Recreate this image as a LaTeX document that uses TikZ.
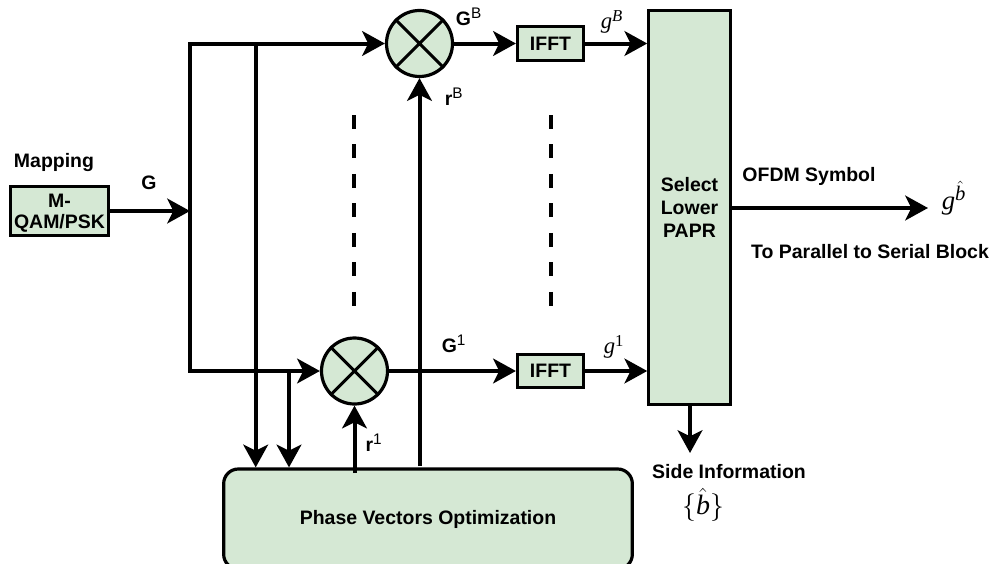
\documentclass[tikz,border=0pt]{standalone}
\usepackage{fontspec}
\setmainfont{Liberation Sans}
\newfontfamily\serf{Liberation Serif}
\usetikzlibrary{arrows.meta}
\definecolor{boxfill}{HTML}{D5E8D4}
\newcommand{\lab}{\fontsize{14.6pt}{17.3pt}\selectfont\bfseries}
\newcommand{\sym}[1]{\mbox{\fontsize{17pt}{20pt}\selectfont\serf\itshape #1}}
\newcommand{\symsup}[1]{\mbox{\fontsize{12.5pt}{14pt}\selectfont\serf\itshape #1}}
\newcommand{\numsup}[1]{\mbox{\fontsize{12.5pt}{14pt}\selectfont\serf #1}}
\newcommand{\sanssup}[1]{\textsuperscript{\fontsize{11.5pt}{14pt}\selectfont\mdseries #1}}
\newcommand{\hatsup}[1]{\mbox{\fontsize{15.5pt}{16pt}\selectfont$\hat{\mbox{\serf\itshape #1}}$}}
\tikzset{
  box/.style={draw=black,line width=2.4pt,fill=boxfill,align=center,inner sep=0pt,font=\lab},
  mixer/.style={draw=black,line width=2.4pt,fill=boxfill,circle,minimum size=49.5pt,inner sep=0pt},
  mixline/.style={line width=2.2pt},
  wire/.style={line width=3pt},
  flow/.style={wire,-{Stealth[length=17pt,width=18.5pt,inset=4.5pt]}},
  dots/.style={line width=3pt,dash pattern=on 10.5pt off 11.6pt},
  txt/.style={inner sep=0pt,font=\lab,align=center},
  sup/.style={inner sep=0pt}
}
\begin{document}
\begin{tikzpicture}[x=0.75pt,y=-0.75pt]
\useasboundingbox (0,0) rectangle (993,564);
% blocks
\node[box,minimum width=73.5pt,minimum height=36.5pt] (map) at (59.5,211) {\rule{0pt}{14pt}M-\\[-1.5pt]QAM/PSK};
\node[mixer] (mB) at (419.5,43.5) {};
\node[mixer] (m1) at (354.5,371) {};
\node[box,minimum width=49.5pt,minimum height=25pt] (fftB) at (550.5,43.5) {IFFT};
\node[box,minimum width=49.5pt,minimum height=25pt] (fft1) at (550.5,371) {IFFT};
\node[box,minimum width=61pt,minimum height=295pt] (sel) at (689.5,207.5) {Select\\Lower\\PAPR};
\node[box,rounded corners=11pt,minimum width=306.5pt,minimum height=75pt] (pvo) at (428,519) {Phase Vectors Optimization};
% mixer crosses
\draw[mixline] (mB.45) -- (mB.225) (mB.135) -- (mB.-45);
\draw[mixline] (m1.45) -- (m1.225) (m1.135) -- (m1.-45);
% junctions and free ends
\coordinate (trunkT) at (190,43.5);
\coordinate (trunkB) at (190,371);
\coordinate (trunkG) at (190,211);
\coordinate (tapA) at (255.7,43.5);
\coordinate (tapB) at (289,371);
\coordinate (rBstart) at (419.5,466);
\coordinate (r1start) at (354.5,473);
\coordinate (outEnd) at (928,208);
\coordinate (sideEnd) at (690,453);
% connectors
\draw[wire,line cap=rect] (trunkT) -- (trunkB);
\draw[flow] (map.east |- trunkG) -- (trunkG);
\draw[flow] (trunkT) -- (mB.west);
\draw[flow] (trunkB) -- (m1.west);
\draw[flow] (tapA) -- (tapA |- pvo.north);
\draw[flow] (tapB) -- (tapB |- pvo.north);
\draw[flow] (r1start) -- (m1.south);
\draw[flow] (rBstart) -- (mB.south);
\draw[flow] (mB.east) -- (fftB.west);
\draw[flow] (m1.east) -- (fft1.west);
\draw[flow] (fftB.east) -- (sel.west |- fftB.east);
\draw[flow] (fft1.east) -- (sel.west |- fft1.east);
\draw[flow] (sel.east |- outEnd) -- (outEnd);
\draw[flow] (sel.south -| sideEnd) -- (sideEnd);
% ellipsis dashes
\coordinate (dotA1) at (354.3,115);
\coordinate (dotA2) at (354.3,306);
\coordinate (dotB1) at (550.7,115);
\coordinate (dotB2) at (550.7,306);
\draw[dots] (dotA1) -- (dotA2);
\draw[dots] (dotB1) -- (dotB2);
% labels
\node[txt] (tMap) at (54,163) {Mapping};
\node[txt] (tG) at (149,183) {G};
\node[txt] (tGB) at (469,17) {G\sanssup{B}};
\node[txt] (trB) at (454,97) {r\sanssup{B}};
\node[txt] (tG1) at (454,344) {G\sanssup{1}};
\node[txt] (tr1) at (374,443) {r\sanssup{1}};
\node[sup] (tgB) at (612,22) {$\sym{g}^{\symsup{B}}$};
\node[sup] (tg1) at (614,347) {$\sym{g}^{\numsup{1}}$};
\node[sup] (tgb) at (954,198) {$\mbox{\fontsize{20pt}{20pt}\selectfont\serf\itshape g}^{\hatsup{b}}$};
\node[txt] (tOFDM) at (809,176) {OFDM Symbol};
\node[txt] (tPar) at (870,252) {To Parallel to Serial Block};
\node[txt] (tSide) at (729,472) {Side Information};
\node[sup] (tb) at (703,505) {\fontsize{21pt}{24pt}\selectfont$\{\hat{\mbox{\serf\itshape b}}\}$};
\end{tikzpicture}
\end{document}
